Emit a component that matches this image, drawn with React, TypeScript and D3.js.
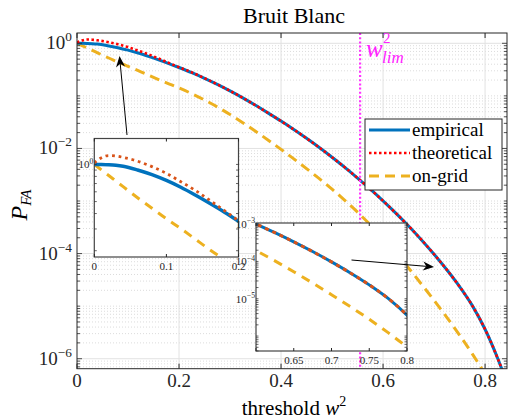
import React from 'react';
import * as d3 from 'd3';

// threshold w^2 and log10(P_FA)
const w2 = [0, 0.01, 0.02, 0.03, 0.04, 0.06, 0.08, 0.1, 0.12, 0.14, 0.16, 0.18, 0.2,
  0.225, 0.25, 0.275, 0.3, 0.325, 0.35, 0.375, 0.4, 0.425, 0.45, 0.475, 0.5, 0.525, 0.55,
  0.575, 0.6, 0.625, 0.65, 0.675, 0.7, 0.725, 0.75, 0.775, 0.8, 0.825, 0.85];
const empirical = [0, -0.001, -0.003, -0.007, -0.015, -0.045, -0.083, -0.13, -0.185, -0.248, -0.315, -0.385, -0.46,
  -0.558, -0.665, -0.78, -0.905, -1.038, -1.18, -1.328, -1.48, -1.64, -1.808, -1.983, -2.168, -2.36, -2.563,
  -2.775, -2.998, -3.23, -3.475, -3.735, -4.013, -4.308, -4.628, -4.99, -5.44, -6.0, -6.65];
const theoretical = [0.013, 0.055, 0.072, 0.068, 0.057, 0.026, -0.018, -0.072, -0.14, -0.21, -0.29, -0.372, -0.455,
  -0.553, -0.664, -0.78, -0.905, -1.038, -1.18, -1.328, -1.48, -1.64, -1.808, -1.983, -2.168, -2.36, -2.563,
  -2.775, -2.998, -3.23, -3.475, -3.735, -4.013, -4.308, -4.628, -4.99, -5.44, -6.0, -6.65];
const onGrid = [0, -0.045, -0.09, -0.135, -0.18, -0.27, -0.355, -0.44, -0.52, -0.605, -0.69, -0.77, -0.85,
  -0.958, -1.078, -1.21, -1.355, -1.51, -1.673, -1.843, -2.018, -2.198, -2.383, -2.575, -2.775, -2.988, -3.213,
  -3.453, -3.71, -3.985, -4.275, -4.578, -4.89, -5.213, -5.55, -5.908, -6.295, -6.72, -7.2];

const seriesNames = ['empirical', 'theoretical', 'on-grid'];
const xTicks = [0, 0.2, 0.4, 0.6, 0.8];
const yTickExps = [0, -2, -4, -6];
const inset1XTicks = [0, 0.1, 0.2];
const inset1YExps = [0];
const inset2XTicks = [0.6, 0.65, 0.7, 0.75, 0.8];
const inset2YExps = [-3, -4, -5, -6];
const wLim = 0.555;

const BLUE = '#0072BD';
const RED = '#ff0000';
const RED2 = '#D95319';
const ORANGE = '#EDB120';
const AX = '#262626';
const MAG = '#ff22ff';
const SERIF = "'Liberation Serif', 'DejaVu Serif', 'Times New Roman', serif";

type Pt = [number, number];
const toPts = (ys: number[]): Pt[] => ys.map((e, i) => [w2[i], Math.pow(10, e)]);

function Pow({ x, y, exp, size, anchor = 'end' }: { x: number; y: number; exp: number; size: number; anchor?: string }) {
  return (
    <text x={x} y={y} fontSize={size} textAnchor={anchor} fill={AX}>
      10<tspan dy={-size * 0.42} fontSize={size * 0.7}>{exp < 0 ? '\u2212' + (-exp) : exp}</tspan>
    </text>
  );
}

function logMinor(lo: number, hi: number) {
  const out: number[] = [];
  for (let d = Math.floor(Math.log10(lo)) - 1; d <= Math.ceil(Math.log10(hi)); d++) {
    for (let k = 1; k <= 9; k++) {
      const v = k * Math.pow(10, d);
      if (v >= lo && v <= hi) out.push(v);
    }
  }
  return out;
}

function Arrow({ x1, y1, x2, y2 }: { x1: number; y1: number; x2: number; y2: number }) {
  const a = Math.atan2(y2 - y1, x2 - x1);
  const L = 11, Wd = 4.5;
  const bx = x2 - L * Math.cos(a), by = y2 - L * Math.sin(a);
  const nx = -Math.sin(a), ny = Math.cos(a);
  const notchX = x2 - L * 0.7 * Math.cos(a), notchY = y2 - L * 0.7 * Math.sin(a);
  const head = `M${x2},${y2}L${bx + nx * Wd},${by + ny * Wd}L${notchX},${notchY}L${bx - nx * Wd},${by - ny * Wd}Z`;
  return (
    <g>
      <line x1={x1} y1={y1} x2={notchX} y2={notchY} stroke="#000" strokeWidth={1} />
      <path d={head} fill="#000" />
    </g>
  );
}

export default function App() {
  const emp = toPts(empirical);
  const theo = toPts(theoretical);
  const grid = toPts(onGrid);

  // main axes
  const L = 77, T = 33, R = 507, B = 368.7;
  const x = d3.scaleLinear().domain([0, 0.843]).range([L, R]);
  const y = d3.scaleLog().domain([Math.pow(10, -6.19), Math.pow(10, 0.196)]).range([B, T]);
  const line = d3.line<Pt>().x(d => x(d[0])).y(d => y(d[1])).curve(d3.curveMonotoneX);
  const yDom = y.domain();
  const minors = logMinor(yDom[0], yDom[1]);
  const majorVals = yTickExps.map(e => Math.pow(10, e));
  const isMajor = (v: number) => majorVals.some(m => Math.abs(v / m - 1) < 1e-9);

  // inset 1 (zoom near 0)
  const i1 = { l: 94.3, t: 138.5, r: 238.5, b: 257 };
  const x1 = d3.scaleLinear().domain([0, 0.2]).range([i1.l, i1.r]);
  const y1 = d3.scaleLog().domain([Math.pow(10, -0.75), Math.pow(10, 0.21)]).range([i1.b, i1.t]);
  const line1 = d3.line<Pt>().x(d => x1(d[0])).y(d => y1(d[1])).curve(d3.curveMonotoneX);
  const minor1 = logMinor(y1.domain()[0], y1.domain()[1]);

  // inset 2 (zoom near the tail)
  const i2 = { l: 256, t: 223, r: 407, b: 351 };
  const x2 = d3.scaleLinear().domain([0.6, 0.8]).range([i2.l, i2.r]);
  const y2 = d3.scaleLog().domain([Math.pow(10, -6.4), Math.pow(10, -2.97)]).range([i2.b, i2.t]);
  const line2 = d3.line<Pt>().x(d => x2(d[0])).y(d => y2(d[1])).curve(d3.curveMonotoneX);
  const minor2 = logMinor(y2.domain()[0], y2.domain()[1]);

  const legendRows = [
    { name: seriesNames[0], color: BLUE, dash: undefined },
    { name: seriesNames[1], color: RED, dash: '2.5,2.5' },
    { name: seriesNames[2], color: ORANGE, dash: '10,6' },
  ];

  return (
    <svg width={509} height={419} style={{ position: 'absolute', left: 0, top: 0, background: '#fff', fontFamily: SERIF }}>
      <defs>
        <clipPath id="cMain"><rect x={L} y={T} width={R - L} height={B - T} /></clipPath>
        <clipPath id="cIn1"><rect x={i1.l} y={i1.t} width={i1.r - i1.l} height={i1.b - i1.t} /></clipPath>
        <clipPath id="cIn2"><rect x={i2.l} y={i2.t} width={i2.r - i2.l} height={i2.b - i2.t} /></clipPath>
      </defs>

      {/* title */}
      <text x={294} y={23} fontSize={22} textAnchor="middle" fill="#000">Bruit Blanc</text>

      {/* grid */}
      <g clipPath="url(#cMain)">
        {minors.filter(v => !isMajor(v)).map((v, i) => (
          <line key={'mg' + i} x1={L} x2={R} y1={y(v)} y2={y(v)} stroke="#c4c4c4" strokeWidth={0.6} strokeDasharray="1,2" />
        ))}
        {majorVals.map((v, i) => (
          <line key={'Mg' + i} x1={L} x2={R} y1={y(v)} y2={y(v)} stroke="#e2e2e2" strokeWidth={1} />
        ))}
        {xTicks.slice(1).map((t, i) => (
          <line key={'xg' + i} x1={x(t)} x2={x(t)} y1={T} y2={B} stroke="#e2e2e2" strokeWidth={1} />
        ))}
      </g>

      {/* main curves */}
      <g clipPath="url(#cMain)" fill="none">
        <path d={line(grid) || ''} stroke={ORANGE} strokeWidth={3} strokeDasharray="10,6" />
        <path d={line(emp) || ''} stroke={BLUE} strokeWidth={3} />
        <path d={line(theo) || ''} stroke={RED} strokeWidth={2.6} strokeDasharray="2.5,2.5" />
        <line x1={x(wLim)} x2={x(wLim)} y1={T} y2={B} stroke="#ff33ff" strokeWidth={2.2} strokeDasharray="2,2.2" />
      </g>

      {/* main axes box and ticks */}
      <rect x={L} y={T} width={R - L} height={B - T} fill="none" stroke={AX} strokeWidth={1} />
      {xTicks.map((t, i) => (
        <g key={'xt' + i}>
          <line x1={x(t)} x2={x(t)} y1={B} y2={B - 5} stroke={AX} />
          <line x1={x(t)} x2={x(t)} y1={T} y2={T + 5} stroke={AX} />
          <text x={x(t)} y={387} fontSize={19} textAnchor="middle" fill={AX}>{t}</text>
        </g>
      ))}
      {minors.map((v, i) => (
        <g key={'yt' + i}>
          <line x1={L} x2={L + (isMajor(v) ? 5 : 3)} y1={y(v)} y2={y(v)} stroke={AX} strokeWidth={0.8} />
          <line x1={R} x2={R - (isMajor(v) ? 5 : 3)} y1={y(v)} y2={y(v)} stroke={AX} strokeWidth={0.8} />
        </g>
      ))}
      {yTickExps.map((e, i) => (
        <Pow key={'yl' + i} x={72} y={y(Math.pow(10, e)) + 6} exp={e} size={19} />
      ))}

      {/* axis labels */}
      <text x={294} y={415} fontSize={21} textAnchor="middle" fill="#000">
        threshold <tspan fontStyle="italic">w</tspan><tspan dy={-9} fontSize={14}>2</tspan>
      </text>
      <text transform="translate(27,205) rotate(-90)" fontSize={24} textAnchor="middle" fill="#000" fontStyle="italic">
        <tspan>P</tspan><tspan dy={4} fontSize={15}>FA</tspan>
      </text>

      {/* w_lim label */}
      <text x={366} y={57} fontSize={25} fontStyle="italic" fill={MAG}>w</text>
      <text x={383} y={43} fontSize={15} fill={MAG}>2</text>
      <text x={382} y={63} fontSize={17} fontStyle="italic" fill={MAG}>lim</text>

      {/* legend */}
      <rect x={365} y={119} width={137} height={71} fill="#fff" stroke={AX} strokeWidth={1} />
      {legendRows.map((r, i) => (
        <g key={'lg' + i}>
          <line x1={369} x2={410} y1={130 + i * 23} y2={130 + i * 23} stroke={r.color} strokeWidth={r.name === 'theoretical' ? 2.6 : 3}
            strokeDasharray={r.dash} />
          <text x={412} y={136 + i * 23} fontSize={19} fill="#000">{r.name}</text>
        </g>
      ))}

      {/* inset 1 */}
      <rect x={i1.l} y={i1.t} width={i1.r - i1.l} height={i1.b - i1.t} fill="#fff" />
      <g clipPath="url(#cIn1)" fill="none">
        <path d={line1(grid) || ''} stroke={ORANGE} strokeWidth={3} strokeDasharray="9,7" />
        <path d={line1(emp) || ''} stroke={BLUE} strokeWidth={3.5} />
        <path d={line1(theo) || ''} stroke={RED2} strokeWidth={2.8} strokeDasharray="2.8,3.8" />
      </g>
      <rect x={i1.l} y={i1.t} width={i1.r - i1.l} height={i1.b - i1.t} fill="none" stroke="#444" strokeWidth={1.2} />
      {inset1XTicks.map((t, i) => (
        <g key={'i1x' + i}>
          <line x1={x1(t)} x2={x1(t)} y1={i1.b} y2={i1.b - 3} stroke={AX} />
          <line x1={x1(t)} x2={x1(t)} y1={i1.t} y2={i1.t + 3} stroke={AX} />
          <text x={x1(t)} y={270} fontSize={11} textAnchor="middle" fill={AX}>{t}</text>
        </g>
      ))}
      {minor1.map((v, i) => (
        <g key={'i1y' + i}>
          <line x1={i1.l} x2={i1.l + 2.5} y1={y1(v)} y2={y1(v)} stroke={AX} strokeWidth={0.7} />
          <line x1={i1.r} x2={i1.r - 2.5} y1={y1(v)} y2={y1(v)} stroke={AX} strokeWidth={0.7} />
        </g>
      ))}
      {inset1YExps.map((e, i) => (
        <Pow key={'i1l' + i} x={i1.l - 1} y={y1(Math.pow(10, e)) + 4} exp={e} size={11} />
      ))}

      {/* inset 2 */}
      <rect x={i2.l} y={i2.t} width={i2.r - i2.l} height={i2.b - i2.t} fill="#fff" />
      <g clipPath="url(#cIn2)" fill="none">
        <path d={line2(grid) || ''} stroke={ORANGE} strokeWidth={3} strokeDasharray="9,7" />
        <path d={line2(emp) || ''} stroke={BLUE} strokeWidth={3} />
        <path d={line2(theo) || ''} stroke={RED2} strokeWidth={3} strokeDasharray="4,4" />
      </g>
      <rect x={i2.l} y={i2.t} width={i2.r - i2.l} height={i2.b - i2.t} fill="none" stroke="#444" strokeWidth={1.2} />
      {inset2XTicks.map((t, i) => (
        <g key={'i2x' + i}>
          <line x1={x2(t)} x2={x2(t)} y1={i2.b} y2={i2.b - 3} stroke={AX} />
          <line x1={x2(t)} x2={x2(t)} y1={i2.t} y2={i2.t + 3} stroke={AX} />
          {i > 0 && <text x={x2(t)} y={364} fontSize={11} textAnchor="middle" fill={AX}>{t}</text>}
        </g>
      ))}
      {minor2.map((v, i) => (
        <g key={'i2y' + i}>
          <line x1={i2.l} x2={i2.l + 2.5} y1={y2(v)} y2={y2(v)} stroke={AX} strokeWidth={0.7} />
          <line x1={i2.r} x2={i2.r - 2.5} y1={y2(v)} y2={y2(v)} stroke={AX} strokeWidth={0.7} />
        </g>
      ))}
      {inset2YExps.slice(0, 3).map((e, i) => (
        <Pow key={'i2l' + i} x={i2.l - 1} y={y2(Math.pow(10, e)) + 4} exp={e} size={11} />
      ))}

      {/* arrows */}
      <Arrow x1={127} y1={135} x2={119.5} y2={56} />
      <Arrow x1={351.5} y1={260} x2={434} y2={267} />
    </svg>
  );
}
